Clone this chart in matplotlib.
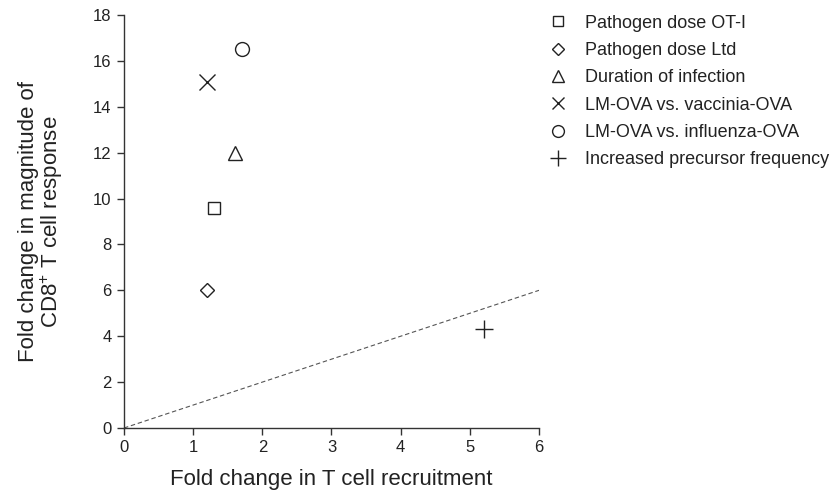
import matplotlib
matplotlib.use('Agg')
import matplotlib.pyplot as plt
import numpy as np

plt.rcParams['font.family'] = ['Liberation Sans', 'DejaVu Sans']
plt.rcParams['mathtext.fontset'] = 'custom'
plt.rcParams['mathtext.rm'] = 'Liberation Sans'
plt.rcParams['mathtext.it'] = 'Liberation Sans:italic'

# data
labels = ['Pathogen dose OT-I', 'Pathogen dose Ltd', 'Duration of infection',
          'LM-OVA vs. vaccinia-OVA', 'LM-OVA vs. influenza-OVA',
          'Increased precursor frequency']
recruitment = [1.3, 1.2, 1.6, 1.2, 1.7, 5.2]
magnitude = [9.6, 6.0, 12.0, 15.1, 16.5, 4.3]
markers = ['s', 'D', '^', 'x', 'o', '+']
sizes = [9, 7, 10, 11, 10, 13]
identity_x = [0, 6]

fig = plt.figure(figsize=(8.33, 5.01), dpi=100)
ax = fig.add_axes([124/833, (501-428)/501, (539-124)/833, (428-15)/501])

for lab, x, y, m, s in zip(labels, recruitment, magnitude, markers, sizes):
    ax.plot([x], [y], linestyle='none', marker=m, markersize=s,
            markerfacecolor='none', markeredgecolor='#222222',
            markeredgewidth=1.0, label=lab, clip_on=False)

ax.plot(identity_x, identity_x, linestyle=(0, (4, 2.5)), color='#555555', linewidth=0.8)

ax.set_xlim(0, 6)
ax.set_ylim(0, 18)
ax.set_xticks(range(0, 7))
ax.set_yticks(range(0, 19, 2))
for side in ['top', 'right']:
    ax.spines[side].set_visible(False)
for side in ['left', 'bottom']:
    ax.spines[side].set_color('#333333')
    ax.spines[side].set_linewidth(1.0)
ax.tick_params(direction='out', length=5, width=1.0, color='#333333',
               labelsize=12, labelcolor='#222222', pad=4)

ax.set_xlabel('Fold change in T cell recruitment', fontsize=16, color='#222222')
ax.xaxis.set_label_coords(0.5, -0.099)
ax.set_ylabel('Fold change in magnitude of\nCD8$^{\\mathregular{+}}$ T cell response', fontsize=16,
              color='#222222', linespacing=1.0)
ax.yaxis.set_label_coords(-0.142, 0.5)

leg = ax.legend(loc='upper left', bbox_to_anchor=(1.002, 1.018), frameon=False,
                fontsize=13, handlelength=1.2, handletextpad=0.9, labelspacing=0.57,
                borderaxespad=0, markerscale=0.85)
for t in leg.get_texts():
    t.set_color('#222222')

fig.savefig('out.png', dpi=100)
